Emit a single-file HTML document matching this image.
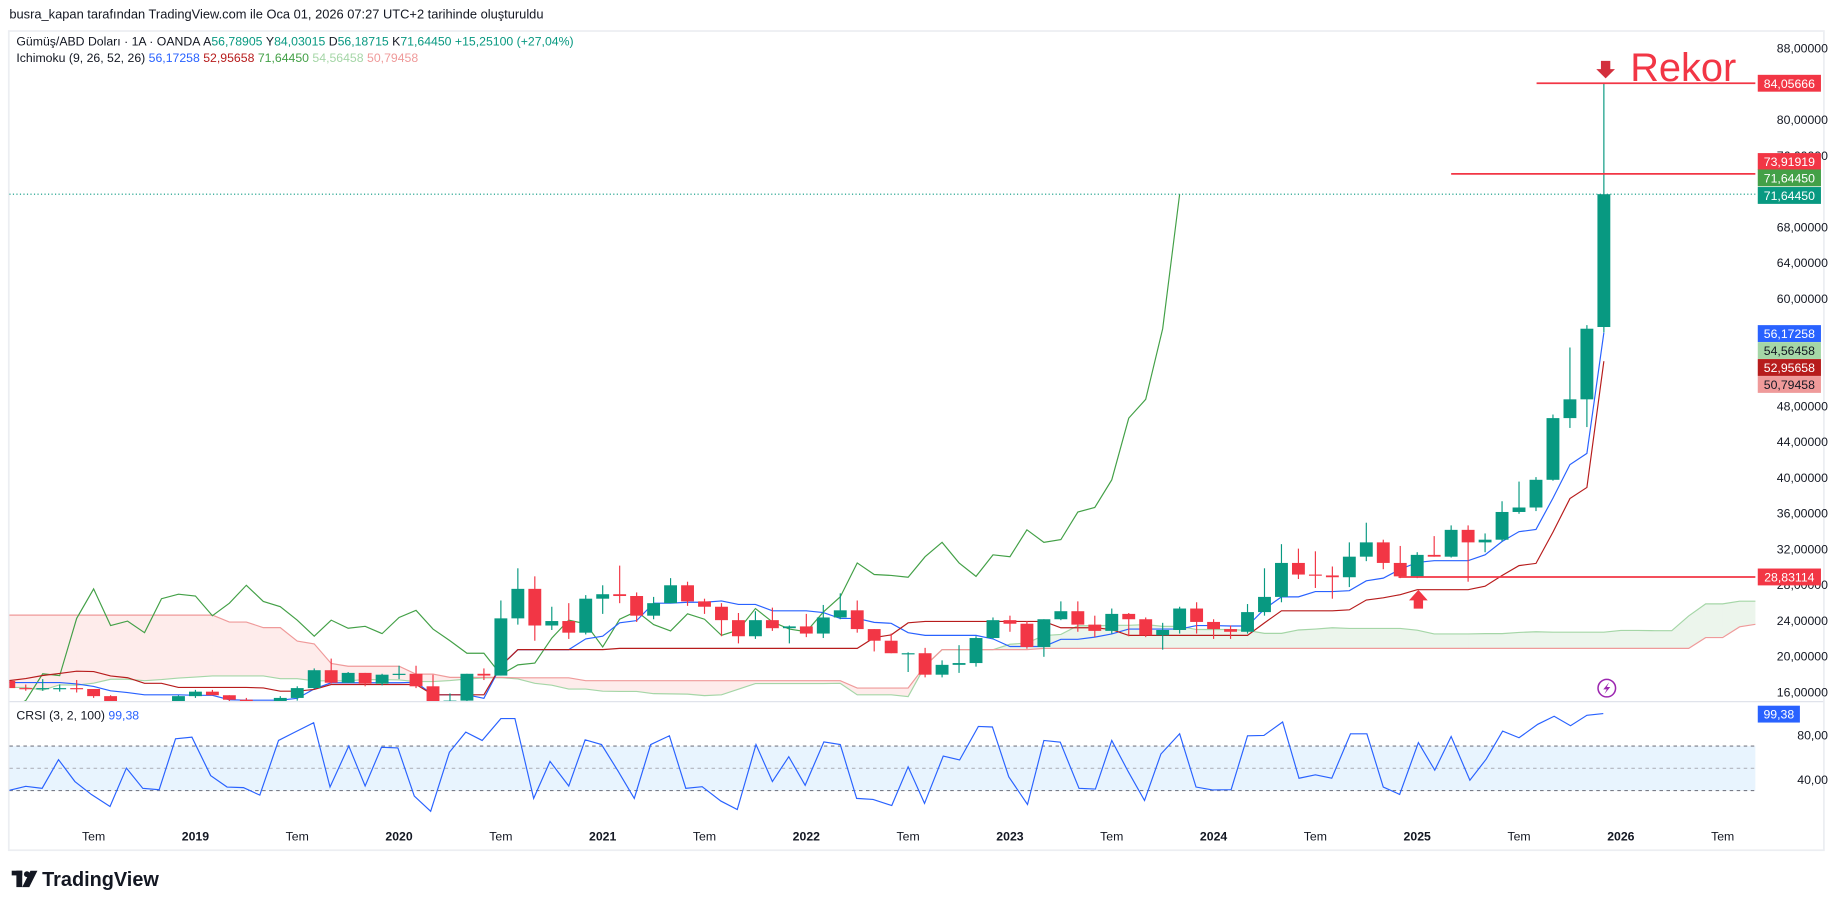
<!DOCTYPE html>
<html><head><meta charset="utf-8">
<style>
html,body{margin:0;padding:0;background:#fff;width:1835px;height:909px;overflow:hidden}
svg{display:block}
text{font-family:"Liberation Sans",sans-serif}
</style></head>
<body>
<svg id="s" width="1835" height="909" viewBox="0 0 1568 776.7" xmlns="http://www.w3.org/2000/svg">
<defs>
<clipPath id="cm"><rect x="8" y="27" width="1492" height="572"/></clipPath>
<clipPath id="cr"><rect x="8" y="600" width="1492" height="102"/></clipPath>
</defs>
<rect x="0" y="0" width="1568" height="777" fill="#fff"/>
<text x="8" y="16" font-size="11" fill="#131722">busra_kapan tarafından TradingView.com ile Oca 01, 2026 07:27 UTC+2 tarihinde oluşturuldu</text>
<rect x="7.5" y="26.5" width="1551" height="700" fill="none" stroke="#eceef2" stroke-width="1.5"/>
<line x1="8" y1="599.5" x2="1558" y2="599.5" stroke="#e0e3eb"/>
<g id="main" clip-path="url(#cm)"></g>
<g id="rsi" clip-path="url(#cr)"></g>
<g id="over"></g>
<text x="14" y="39" font-size="10.5" fill="#131722">Gümüş/ABD Doları · 1A · OANDA <tspan>A</tspan><tspan fill="#089981">56,78905</tspan> <tspan>Y</tspan><tspan fill="#089981">84,03015</tspan> <tspan>D</tspan><tspan fill="#089981">56,18715</tspan> <tspan>K</tspan><tspan fill="#089981">71,64450 +15,25100 (+27,04%)</tspan></text>
<text x="14" y="53" font-size="10.5" fill="#131722">Ichimoku (9, 26, 52, 26) <tspan fill="#2962ff">56,17258</tspan> <tspan fill="#b71c1c">52,95658</tspan> <tspan fill="#43a047">71,64450</tspan> <tspan fill="#a5d6a7">54,56458</tspan> <tspan fill="#ef9a9a">50,79458</tspan></text>
<text x="14" y="615" font-size="10.5" fill="#131722">CRSI (3, 2, 100) <tspan fill="#2962ff">99,38</tspan></text>
<g transform="translate(10,743)">
<rect x="0" y="1" width="9" height="4" fill="#131722"/><rect x="4" y="1" width="5" height="14" fill="#131722"/>
<circle cx="13" cy="4" r="2.5" fill="#131722"/><polygon points="16,1 22,1 15,15 9,15" fill="#131722"/>
<text x="26" y="14" font-size="17" font-weight="bold" fill="#131722">TradingView</text>
</g>
</svg>
<script>
const NS="http://www.w3.org/2000/svg";
function el(p,t,a,txt){const e=document.createElementNS(NS,t);for(const k in a)e.setAttribute(k,a[k]);if(txt!==undefined)e.textContent=txt;p.appendChild(e);return e;}
const closes=[32.0,34.5,32.5,30.8,28.3,27.4,27.3,31.0,34.5,32.3,33.0,30.0,
31.8,28.9,28.3,24.1,22.3,19.7,19.8,23.5,21.7,21.8,19.9,19.5,
19.1,21.1,19.8,19.2,19.4,21.0,20.4,19.5,17.1,16.3,15.5,15.6,
17.2,16.6,17.0,16.3,16.8,15.6,14.7,14.6,14.6,15.5,14.1,13.8,
14.3,15.0,15.5,17.9,16.0,18.7,20.4,18.7,19.2,17.7,16.5,16.0,
17.5,18.3,18.2,17.2,17.4,16.6,16.8,17.5,16.7,16.7,16.5,17.0,17.2];
const D=[];let prev=31.0;
for(const c of closes){D.push([prev,Math.max(prev,c)*1.04,Math.min(prev,c)*0.96,c]);prev=c;}
const det=[[17.2,17.4,16.1,16.4],[16.4,16.8,16.1,16.3],[16.3,17.4,16.1,16.4],[16.4,16.8,16.0,16.4],[16.4,17.3,15.9,16.3],[16.3,16.3,15.3,15.5],[15.5,15.6,14.3,14.5],[14.5,14.9,13.9,14.6],[14.6,14.9,14.2,14.6],[14.6,14.7,13.9,14.1],[14.1,15.6,14.0,15.5],
[15.5,16.2,15.3,16.0],[16.0,16.2,15.6,15.6],[15.6,15.6,14.9,15.1],[15.1,15.3,14.6,14.9],[14.9,14.9,14.3,14.5],[14.5,15.5,14.4,15.3],[15.3,16.6,15.0,16.4],[16.4,18.6,16.3,18.4],[18.4,19.7,16.9,17.0],[17.0,18.2,17.0,18.1],[18.1,18.1,16.6,16.9],[16.9,18.0,16.7,17.9],
[17.9,18.9,17.4,18.0],[18.0,18.9,16.4,16.6],[16.6,17.9,11.6,14.0],[14.0,15.8,14.0,15.0],[15.0,18.0,14.6,18.0],[18.0,18.6,17.3,17.8],[17.8,26.2,17.8,24.2],[24.2,29.8,23.5,27.5],[27.5,28.9,21.7,23.4],[23.4,25.5,22.9,23.9],[23.9,25.9,21.9,22.6],[22.6,26.8,22.4,26.4],
[26.4,27.9,24.7,26.9],[26.9,30.1,25.9,26.7],[26.7,27.1,23.8,24.5],[24.5,26.6,24.1,25.9],[25.9,28.7,25.9,27.9],[27.9,28.3,25.6,26.1],[26.1,26.4,24.7,25.5],[25.5,25.9,22.2,24.0],[24.0,24.8,21.4,22.2],[22.2,25.0,21.9,24.0],[24.0,25.4,22.8,23.1],[23.1,23.4,21.4,23.3],
[23.3,24.7,22.1,22.5],[22.5,25.7,22.0,24.3],[24.3,27.0,24.1,25.1],[25.1,26.2,22.6,23.0],[23.0,23.0,20.5,21.7],[21.7,22.5,20.3,20.3],[20.3,20.4,18.2,20.3],[20.3,20.9,17.6,17.9],[17.9,19.5,17.6,19.0],[19.0,21.2,18.1,19.2],[19.2,22.2,18.8,22.0],[22.0,24.3,21.9,24.0],
[24.0,24.5,22.7,23.6],[23.6,23.9,20.8,21.0],[21.0,24.1,19.9,24.1],[24.1,26.1,24.0,25.0],[25.0,26.1,22.7,23.5],[23.5,24.5,22.1,22.8],[22.8,25.3,22.5,24.7],[24.7,24.8,22.2,24.1],[24.1,24.3,22.1,22.3],[22.3,23.7,20.7,22.9],[22.9,25.5,22.5,25.3],[25.3,26.0,22.5,23.8],
[23.8,24.1,21.9,23.0],[23.0,23.4,21.9,22.7],[22.7,25.8,22.5,24.9],[24.9,29.8,24.5,26.6],[26.6,32.5,26.0,30.4],[30.4,32.0,28.6,29.1],[29.1,31.7,27.6,29.0],[29.0,30.0,26.4,28.8],[28.8,32.7,27.7,31.1],[31.1,34.9,30.6,32.7],[32.7,33.0,29.7,30.4],[30.4,32.3,28.7,28.9],
[28.9,31.6,28.7,31.3],[31.3,33.4,31.1,31.1],[31.1,34.6,31.0,34.1],[34.1,34.6,28.3,32.7],[32.7,33.7,31.6,33.0],[33.0,37.3,32.8,36.1],[36.1,39.5,35.9,36.6],[36.6,40.0,36.2,39.7],[39.7,47.0,39.6,46.6],[46.6,54.5,45.5,48.7],[48.7,57.0,45.6,56.6],[56.79,84.03,56.19,71.6445]];
for(const d of det)D.push(d);
const J=84; // index of Jan 2019
const X=i=>167+14.5*(i-J);
const Y=p=>41+(88-p)*7.639;
const N=D.length;
function mid(i,n){let h=-1e9,l=1e9;for(let k=Math.max(0,i-n+1);k<=i;k++){h=Math.max(h,D[k][1]);l=Math.min(l,D[k][2]);}return (h+l)/2;}
const ten=[],kij=[],A={},B={};
for(let i=0;i<N;i++){ten[i]=mid(i,9);kij[i]=mid(i,26);A[i+25]=(ten[i]+kij[i])/2;B[i+25]=mid(i,52);}
const g=document.getElementById('main');
// cloud
for(let i=60;i<N+24;i++){
 const a1=A[i],b1=B[i],a2=A[i+1],b2=B[i+1];
 el(g,'polygon',{points:`${X(i)},${Y(a1)} ${X(i+1)},${Y(a2)} ${X(i+1)},${Y(b2)} ${X(i)},${Y(b1)}`,fill:a1>=b1?'rgba(67,160,71,0.1)':'rgba(244,67,54,0.1)'});
}
function line(arr,from,to,col,w){let p='';for(let i=from;i<=to;i++){if(arr[i]===undefined)continue;p+=`${X(i).toFixed(1)},${Y(arr[i]).toFixed(1)} `;}el(g,'polyline',{points:p,fill:'none',stroke:col,'stroke-width':w});}
line(A,60,N+24,'#a5d6a7',1);
line(B,60,N+24,'#ef9a9a',1);
const ch={};for(let i=0;i<N;i++)ch[i-25]=D[i][3];
line(ch,60,N-26,'#43a047',1);
line(ten,60,N-1,'#2962ff',1);
line(kij,60,N-1,'#b71c1c',1);
// dotted last price
el(g,'line',{x1:8,y1:Y(71.6445),x2:1500,y2:Y(71.6445),stroke:'#089981','stroke-dasharray':'1 2','stroke-width':1});
// candles
for(let i=70;i<N;i++){const [o,h,l,c]=D[i];const col=c>=o?'#089981':'#f23645';const x=X(i);
 el(g,'line',{x1:x,y1:Y(h),x2:x,y2:Y(l),stroke:col,'stroke-width':1});
 const t=Y(Math.max(o,c)),b=Y(Math.min(o,c));el(g,'rect',{x:x-5.5,y:t,width:11,height:Math.max(1,b-t),fill:col});}
// annotation lines
el(g,'line',{x1:1313,y1:Y(84.05666),x2:1500,y2:Y(84.05666),stroke:'#f23645','stroke-width':1.5});
el(g,'line',{x1:1240,y1:Y(73.91919),x2:1500,y2:Y(73.91919),stroke:'#f23645','stroke-width':1.5});
el(g,'line',{x1:1195,y1:Y(28.83114),x2:1500,y2:Y(28.83114),stroke:'#f23645','stroke-width':1.5});
const o=document.getElementById('over');
el(o,'polygon',{points:'1368,52 1376,52 1376,59 1380,59 1372,67 1364,59 1368,59',fill:'#d32f3c'});
el(o,'text',{x:1393,y:69,'font-size':34,fill:'#f23645'},'Rekor');
el(o,'polygon',{points:'1208,520 1216,520 1216,513 1220,513 1212,504 1204,513 1208,513',fill:'#f23645'});
el(o,'circle',{cx:1373,cy:588,r:7.5,fill:'none',stroke:'#9c27b0','stroke-width':1.3});
el(o,'polygon',{points:'1375,583 1370,589 1373,589 1371,593 1376,587 1373,587',fill:'#9c27b0'});
// axis labels
[88,80,76,68,64,60,48,44,40,36,32,28,24,20,16].forEach(p=>{el(o,'text',{x:1562,y:Y(p)+4,'font-size':10.5,fill:'#131722','text-anchor':'end'},p.toFixed(0)+',00000');});
const labs=[[84.05666,'#f23645','#fff'],[73.91919,'#f23645','#fff'],[71.6445,'#43a047','#fff',152],[71.6445,'#089981','#fff',167],[56.17258,'#2962ff','#fff'],[54.56458,'#a5d6a7','#131722'],[52.95658,'#b71c1c','#fff'],[50.79458,'#ef9a9a','#131722'],[28.83114,'#f23645','#fff']];
labs.forEach(([v,bg,fg,yy],k)=>{let y=yy!==undefined?yy:Y(v);if(k===1)y=138;if(k===4)y=285;if(k===5)y=299.5;if(k===6)y=314;if(k===7)y=328.5;
 el(o,'rect',{x:1502,y:y-7.2,width:54,height:14.4,fill:bg});
 el(o,'text',{x:1529,y:y+4,'font-size':10.5,fill:fg,'text-anchor':'middle'},v.toFixed(5).replace('.',','));});
// RSI
const r=document.getElementById('rsi');
const RY=v=>628+(80-v)*0.95;
el(r,'rect',{x:8,y:RY(70),width:1492,height:RY(30)-RY(70),fill:'rgba(33,150,243,0.1)'});
[70,50,30].forEach(v=>el(r,'line',{x1:8,y1:RY(v),x2:1500,y2:RY(v),stroke:v==50?'#b2b5be':'#787b86','stroke-dasharray':'3 3','stroke-width':1}));
const pts=[[8,298],[22,286],[36,292],[50,207],[64,272],[78,310],[94,346],[108,232],[122,292],[136,296],[150,145],[164,140],[180,254],[194,288],[208,290],[222,312],[238,150],[252,125],[268,97],[282,288],[298,166],[312,285],[326,170],[340,172],[354,315],[368,360],[384,185],[398,125],[412,150],[428,85],[440,85],[456,322],[470,212],[486,285],[500,148],[514,162],[528,240],[542,322],[556,162],[572,136],[586,292],[600,287],[616,330],[630,355],[646,162],[660,272],[674,198],[688,283],[704,154],[718,162],[732,322],[746,325],[762,343],[776,228],[790,337],[806,196],[820,208],[836,108],[848,110],[862,258],[878,340],[892,150],[906,155],[922,292],[936,294],[950,150],[964,242],[978,328],[992,190],[1008,130],[1022,288],[1036,297],[1052,296],[1066,136],[1080,135],[1096,95],[1110,262],[1124,252],[1138,262],[1154,130],[1168,130],[1182,288],[1196,310],[1212,156],[1226,238],[1240,138],[1256,268],[1270,205],[1284,122],[1298,142],[1314,102],[1328,78],[1342,106],[1356,75],[1370,70]];
el(r,'polyline',{points:pts.map(([x,y])=>`${x},${((y/2.97+690)/1.1703).toFixed(1)}`).join(' '),fill:'none',stroke:'#2962ff','stroke-width':1});
el(o,'text',{x:1562,y:RY(80)+4,'font-size':10.5,fill:'#131722','text-anchor':'end'},'80,00');
el(o,'text',{x:1562,y:RY(40)+4,'font-size':10.5,fill:'#131722','text-anchor':'end'},'40,00');
el(o,'rect',{x:1502,y:603,width:36,height:14.4,fill:'#2962ff'});
el(o,'text',{x:1520,y:614,'font-size':10.5,fill:'#fff','text-anchor':'middle'},'99,38');
// time axis
const tl=['Tem','2019','Tem','2020','Tem','2021','Tem','2022','Tem','2023','Tem','2024','Tem','2025','Tem','2026','Tem'];
tl.forEach((t,k)=>{el(o,'text',{x:80+87*k,y:718,'font-size':10.5,fill:'#131722','text-anchor':'middle','font-weight':t==='Tem'?'normal':'bold'},t);});
</script>
</body></html>
